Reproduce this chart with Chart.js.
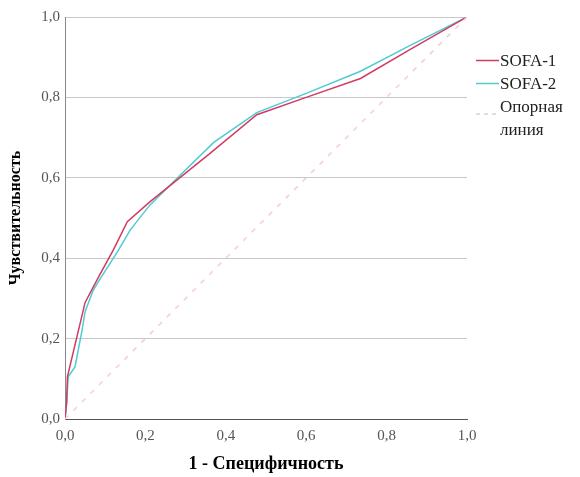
<!DOCTYPE html>
<html>
<head>
<meta charset="utf-8">
<script src="https://cdn.jsdelivr.net/npm/chart.js@4.4.1/dist/chart.umd.min.js"></script>
<style>
  html, body { margin: 0; padding: 0; background: #fff; }
  #wrap { position: relative; width: 580px; height: 477px; }
  #legend { position: absolute; left: 474px; top: 49px; font-family: 'Liberation Serif', serif; font-size: 17px; color: #222; }
  .row { position: absolute; left: 0; white-space: nowrap; }
  .row svg { position: absolute; left: 0; }
  .row span { position: absolute; left: 26px; line-height: 23px; }
</style>
</head>
<body>
<div id="wrap">
  <canvas id="c" width="580" height="477"></canvas>
  <div id="legend"></div>
</div>
<script>
// Data
const seriesNames = ['SOFA-1', 'SOFA-2', 'Опорная линия'];
const fprSofa1 = [0, 0.004, 0.006, 0.02, 0.05, 0.087, 0.12, 0.155, 0.211, 0.36, 0.477, 0.6, 0.735, 0.86, 1];
const tprSofa1 = [0, 0.04, 0.105, 0.164, 0.29, 0.36, 0.42, 0.491, 0.54, 0.66, 0.757, 0.8, 0.847, 0.92, 1];
const fprSofa2 = [0, 0.004, 0.008, 0.025, 0.033, 0.041, 0.05, 0.07, 0.091, 0.133, 0.162, 0.211, 0.28, 0.37, 0.477, 0.6, 0.735, 0.86, 1];
const tprSofa2 = [0, 0.04, 0.105, 0.13, 0.172, 0.213, 0.267, 0.32, 0.354, 0.42, 0.47, 0.532, 0.6, 0.688, 0.762, 0.81, 0.865, 0.93, 1];
const fprRef = [0, 1];
const tprRef = [0, 1];
const yTicks = [0, 0.2, 0.4, 0.6, 0.8, 1.0];
const xTicks = [0, 0.2, 0.4, 0.6, 0.8, 1.0];
const xTitle = '1 - Специфичность';
const yTitle = 'Чувствительность';

const colors = ['#d23a62', '#4fcbd3', '#f3cbd9'];

function pts(xs, ys) { return xs.map((x, i) => ({ x: x, y: ys[i] })); }
const fmt = v => Number(v).toFixed(1).replace('.', ',');

new Chart(document.getElementById('c'), {
  type: 'scatter',
  data: {
    datasets: [
      { label: seriesNames[2], data: pts(fprRef, tprRef), showLine: true, borderColor: colors[2], borderWidth: 1.5, borderDash: [5, 7], pointRadius: 0 },
      { label: seriesNames[0], data: pts(fprSofa1, tprSofa1), showLine: true, borderColor: colors[0], borderWidth: 1.5, pointRadius: 0, tension: 0 },
      { label: seriesNames[1], data: pts(fprSofa2, tprSofa2), showLine: true, borderColor: colors[1], borderWidth: 1.5, pointRadius: 0, tension: 0 }
    ]
  },
  options: {
    responsive: false,
    animation: false,
    devicePixelRatio: 1,
    layout: { padding: { top: 17, right: 113, left: 0, bottom: 0 } },
    plugins: { legend: { display: false }, tooltip: { enabled: false } },
    scales: {
      x: {
        type: 'linear', min: 0, max: 1,
        afterFit: s => { s.height = 58; },
        afterBuildTicks: s => { s.ticks = xTicks.map(v => ({ value: v })); },
        grid: { display: false, drawTicks: false },
        border: { color: '#555', width: 1 },
        ticks: { callback: fmt, color: '#555', padding: 8, maxRotation: 0, font: { family: 'Liberation Serif', size: 15 } },
        title: { display: true, text: xTitle, color: '#000', padding: { top: 0, bottom: 2 }, font: { family: 'Liberation Serif', size: 18, weight: 'bold' } }
      },
      y: {
        type: 'linear', min: 0, max: 1,
        afterFit: s => { s.width = 65; },
        afterBuildTicks: s => { s.ticks = yTicks.map(v => ({ value: v })); },
        grid: { color: '#c8c8c8', lineWidth: 1, drawTicks: false },
        border: { color: '#888', width: 1 },
        ticks: { callback: fmt, color: '#555', padding: 5, font: { family: 'Liberation Serif', size: 15 } },
        title: { display: true, text: yTitle, color: '#000', padding: { top: 6, bottom: 0 }, font: { family: 'Liberation Serif', size: 16, weight: 'bold' } }
      }
    }
  }
});

// Legend (HTML text)
const legend = document.getElementById('legend');
const legendRows = [
  { name: seriesNames[0], color: colors[0], dash: null, top: 0 },
  { name: seriesNames[1], color: colors[1], dash: null, top: 23 },
  { name: 'Опорная<br>линия', color: '#d9d2d6', dash: '4,4', top: 46 }
];
legendRows.forEach(r => {
  const row = document.createElement('div');
  row.className = 'row';
  row.style.top = r.top + 'px';
  const ly = r.dash ? 19 : 11.5;
  row.innerHTML = '<svg width="26" height="30" style="top:0"><line x1="2" y1="' + ly + '" x2="25" y2="' + ly + '" stroke="' + r.color + '" stroke-width="1.5"' + (r.dash ? ' stroke-dasharray="' + r.dash + '"' : '') + '/></svg><span>' + r.name + '</span>';
  legend.appendChild(row);
});
</script>
</body>
</html>
